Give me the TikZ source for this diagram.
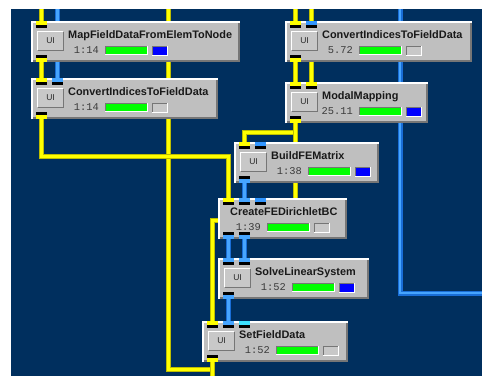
\documentclass[tikz,border=0pt]{standalone}
\usepackage{fontspec}
\setmainfont{Liberation Sans}
\newfontfamily\monofont{Liberation Mono}
\usetikzlibrary{calc}
\definecolor{navy}{RGB}{0,47,94}
\definecolor{boxgray}{RGB}{191,191,191}
\definecolor{btngray}{RGB}{200,200,200}
\definecolor{edgedark}{RGB}{118,118,118}
\definecolor{yedge}{RGB}{190,190,0}
\definecolor{yfill}{RGB}{255,255,0}
\definecolor{bedge}{RGB}{25,110,215}
\definecolor{bfill}{RGB}{70,165,255}
\definecolor{portblue}{RGB}{50,150,255}
\definecolor{portcyan}{RGB}{60,225,255}
\definecolor{barfill}{RGB}{0,255,0}
\definecolor{sqblue}{RGB}{0,0,255}
\definecolor{sqgray}{RGB}{200,200,200}
\definecolor{timegray}{RGB}{60,60,60}

\tikzset{
  ywire/.style={draw=yedge, line width=5pt, postaction={draw=yfill, line width=3pt}},
  bwire/.style={draw=bedge, line width=5pt, postaction={draw=bfill, line width=2.6pt}},
  modbody/.style={fill=boxgray, draw=none, inner sep=0pt, minimum height=41pt},
  uibtn/.style={fill=btngray, inner sep=0pt, minimum width=25pt, minimum height=18pt,
    font=\fontsize{8.5}{10}\selectfont, text=black!85},
  titletext/.style={inner sep=0pt, anchor=base west, font=\fontsize{10.9}{12}\selectfont\bfseries, text=black!90},
  timetext/.style={inner sep=0pt, anchor=base east, font=\monofont\fontsize{10.4}{12}\selectfont, text=timegray},
  gbar/.style={fill=barfill, inner sep=0pt, minimum width=42pt, minimum height=8pt, anchor=north west},
  sqbox/.style={inner sep=0pt, minimum width=15pt, minimum height=9pt, anchor=north west}
}

% sunken frame around a node
\newcommand\sunkenframe[1]{%
  \draw[edgedark, line width=1pt] (#1.south west) -- (#1.north west) -- (#1.north east);
  \draw[white, line width=1pt] (#1.south west) -- (#1.south east) -- (#1.north east);}
% raised frame around a node
\newcommand\raisedframe[1]{%
  \draw[white, line width=1pt] (#1.south west) -- (#1.north west) -- (#1.north east);
  \draw[edgedark, line width=1pt] (#1.south west) -- (#1.south east) -- (#1.north east);}

% port coordinates: name, L, T
\newcommand\portcoords[3]{%
  \coordinate (#1-i1) at (#2+10.5,#3+1);
  \coordinate (#1-i2) at (#2+26.5,#3+1);
  \coordinate (#1-i3) at (#2+42.5,#3+1);
  \coordinate (#1-o1) at (#2+10.5,#3+40);
  \coordinate (#1-o2) at (#2+26.5,#3+40);}

% input / output port: L, T, index, colour
\newcommand\inport[4]{%
  \fill[#4] (#1+16*#3-11,#2) rectangle ++(11,4);
  \fill[black] (#1+16*#3-11,#2+4) rectangle ++(11,3);}
\newcommand\outport[4]{%
  \fill[black] (#1+16*#3-11,#2+34) rectangle ++(11,3);
  \fill[#4] (#1+16*#3-11,#2+37) rectangle ++(11,4);}

% module: name, L, T, W, title, time, square colour, shift (0 = with UI)
\newcommand\scirunmod[8]{%
  \node[modbody, minimum width=#4pt, anchor=north west] (#1) at (#2,#3) {};
  \draw[white, line width=2pt] ($(#1.south west)+(1,0)$) -- ($(#1.north west)+(1,1)$) -- ($(#1.north east)+(0,1)$);
  \draw[edgedark, line width=2pt] ($(#1.south west)+(2,-1)$) -- ($(#1.south east)+(-1,-1)$) -- ($(#1.north east)+(-1,2)$);
  \ifnum#8=0
    \node[uibtn] (#1-ui) at (#2+19.5,#3+20) {UI};
    \raisedframe{#1-ui}
  \fi
  \node[titletext] (#1-title) at (#2+37-#8,#3+17) {#5};
  \node[timetext] (#1-time) at (#2+68-#8,#3+32) {#6};
  \node[gbar] (#1-bar) at (#2+74-#8,#3+25) {};
  \sunkenframe{#1-bar}
  \node[sqbox, fill=#7] (#1-sq) at (#2+121-#8,#3+25) {};
  \sunkenframe{#1-sq}}

\begin{document}
\begin{tikzpicture}[x=1pt, y=-1pt]
\useasboundingbox (0,0) rectangle (482,376);
\fill[white] (0,0) rectangle (482,376);
\fill[navy] (11,9) rectangle (482,376);

% port coordinates
\portcoords{m1}{31}{21}
\portcoords{m2}{31}{78}
\portcoords{m3}{285}{21}
\portcoords{m4}{285}{82}
\portcoords{m5}{234}{142}
\portcoords{m6}{218}{198}
\portcoords{m7}{218}{258}
\portcoords{m8}{202}{321}

% free wire ends
\coordinate (ta) at (41.5,9);
\coordinate (tb) at (57.5,9);
\coordinate (tc) at (168.5,9);
\coordinate (td) at (295.5,9);
\coordinate (te) at (311.5,9);
\coordinate (tf) at (400,9);
\coordinate (ra) at (482,293);
\coordinate (ba) at (212.5,376);
\coordinate (ka) at (168.5,369);
\coordinate (kb) at (295.5,220);

% blue wires
\draw[bwire] (tf) |- (ra);
\draw[bwire] (tb) -- (m2-i2);
\draw[bwire] (m5-o1) -- (m6-i2);
\draw[bwire] (m6-o1) -- (m7-i1);
\draw[bwire] (m6-o2) -- (m7-i2);
\draw[bwire] (m7-o1) -- (m8-i2);

% yellow wires
\draw[ywire] (tc) -- (ka) -| (ba);
\draw[ywire] (m8-o1) -- (ba);
\draw[ywire] (ta) -- (m1-i1);
\draw[ywire] (m1-o1) -- (m2-i1);
\draw[ywire] (m2-o1) -- ++(0,38) -| (m6-i1);
\draw[ywire] (td) -- (m3-i1);
\draw[ywire] (te) -- (m4-i2);
\draw[ywire] (m3-o1) -- (m4-i1);
\draw[ywire] (m4-o1) -- ++(0,10) -| (m5-i1);
\draw[ywire] (m4-o1) -- (kb) -| (m8-i1);

% modules
\scirunmod{m1}{31}{21}{209}{MapFieldDataFromElemToNode}{1:14}{sqblue}{0}
\inport{31}{21}{1}{yfill} \outport{31}{21}{1}{yfill}
\scirunmod{m2}{31}{78}{187}{ConvertIndicesToFieldData}{1:14}{sqgray}{0}
\inport{31}{78}{1}{yfill} \inport{31}{78}{2}{bfill} \outport{31}{78}{1}{yfill}
\scirunmod{m3}{285}{21}{187}{ConvertIndicesToFieldData}{5.72}{sqgray}{0}
\inport{285}{21}{1}{yfill} \inport{285}{21}{2}{portblue} \outport{285}{21}{1}{yfill}
\scirunmod{m4}{285}{82}{143}{ModalMapping}{25.11}{sqblue}{0}
\inport{285}{82}{1}{yfill} \inport{285}{82}{2}{yfill} \outport{285}{82}{1}{yfill}
\scirunmod{m5}{234}{142}{145}{BuildFEMatrix}{1:38}{sqblue}{0}
\inport{234}{142}{1}{yfill} \inport{234}{142}{2}{portblue} \outport{234}{142}{1}{bfill}
\scirunmod{m6}{218}{198}{129}{CreateFEDirichletBC}{1:39}{sqgray}{25}
\inport{218}{198}{1}{yfill} \inport{218}{198}{2}{bfill} \inport{218}{198}{3}{portblue}
\outport{218}{198}{1}{bfill} \outport{218}{198}{2}{bfill}
\scirunmod{m7}{218}{258}{151}{SolveLinearSystem}{1:52}{sqblue}{0}
\inport{218}{258}{1}{bfill} \inport{218}{258}{2}{bfill} \outport{218}{258}{1}{bfill}
\scirunmod{m8}{202}{321}{146}{SetFieldData}{1:52}{sqgray}{0}
\inport{202}{321}{1}{yfill} \inport{202}{321}{2}{bfill} \inport{202}{321}{3}{portcyan}
\outport{202}{321}{1}{yfill}
\end{tikzpicture}
\end{document}
